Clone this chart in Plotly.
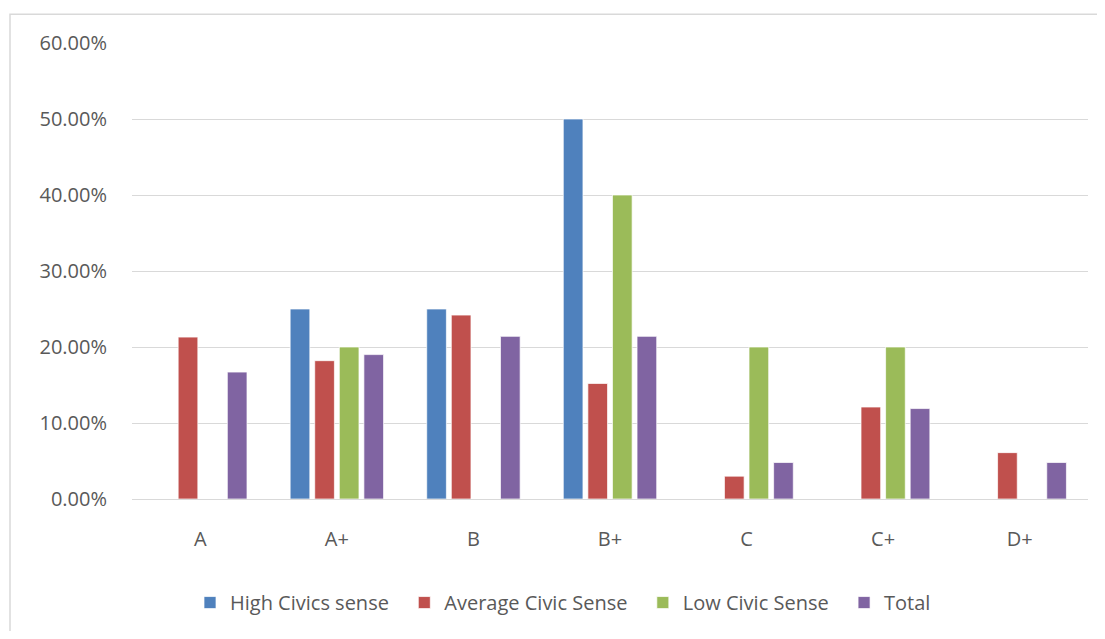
import plotly.graph_objects as go

categories = ["A", "A+", "B", "B+", "C", "C+", "D+"]
high_civics = [None, 0.25, 0.25, 0.50, None, None, None]
average_civic = [0.213, 0.182, 0.242, 0.152, 0.030, 0.121, 0.061]
low_civic = [None, 0.20, None, 0.40, 0.20, 0.20, None]
total = [0.167, 0.190, 0.214, 0.214, 0.048, 0.119, 0.048]
y_ticks = [0, 0.1, 0.2, 0.3, 0.4, 0.5, 0.6]
y_tick_labels = ["0.00%", "10.00%", "20.00%", "30.00%", "40.00%", "50.00%", "60.00%"]
series_names = ["High Civics sense", "Average Civic Sense", "Low Civic Sense", "Total"]
series_colors = ["#4F81BD", "#C0504D", "#9BBB59", "#8064A2"]
series_values = [high_civics, average_civic, low_civic, total]

FONT = "Open Sans, Noto Sans, sans-serif"
TXT = "#595959"
FS = 20
PAD = "\u00a0\u00a0"

fig = go.Figure()
for i, (name, vals, color) in enumerate(zip(series_names, series_values, series_colors)):
    label = name + (PAD if i < len(series_names) - 1 else "")
    fig.add_trace(go.Bar(
        x=categories, y=vals, name=label,
        marker=dict(color=color, line=dict(color="rgba(255,255,255,0.7)", width=1)),
    ))

# page is offset by 8px body margin
OFF = 8
W, H = 1089, 623
L, T = 132 - OFF, 43 - OFF
plot_right, plot_bottom = 1088 - OFF, 501 - OFF
R, B = W - plot_right, H - plot_bottom
pw, ph = W - L - R, H - T - B

def px(x):
    return (x - OFF - L) / pw

def py(y):
    return (plot_bottom - (y - OFF)) / ph

fig.add_shape(type="rect", xref="paper", yref="paper",
              x0=px(10), x1=px(1130), y0=py(680), y1=py(14),
              line=dict(color="#D9D9D9", width=1.5), fillcolor="rgba(0,0,0,0)", layer="below")

fig.update_layout(
    width=W, height=H,
    margin=dict(l=L, r=R, t=T, b=B),
    paper_bgcolor="white", plot_bgcolor="white",
    barmode="group", bargap=0.28, bargroupgap=0.2,
    font=dict(family=FONT, size=FS, color=TXT),
    showlegend=True,
    legend=dict(orientation="h", x=px(563), xanchor="center", y=py(605), yanchor="middle",
                font=dict(family=FONT, size=FS, color=TXT), itemwidth=30,
                traceorder="normal"),
    xaxis=dict(showgrid=False, showline=False, ticks="", ticklabelstandoff=26,
               tickfont=dict(family=FONT, size=FS, color=TXT)),
    yaxis=dict(range=[0, 0.6], tickvals=y_ticks, ticktext=y_tick_labels,
               showgrid=True, gridcolor="#D9D9D9", gridwidth=1,
               zeroline=True, zerolinecolor="#D9D9D9", zerolinewidth=1,
               showline=False, ticks="", ticklabelstandoff=24,
               tickfont=dict(family=FONT, size=FS, color=TXT)),
)

fig.write_html("out.html")
